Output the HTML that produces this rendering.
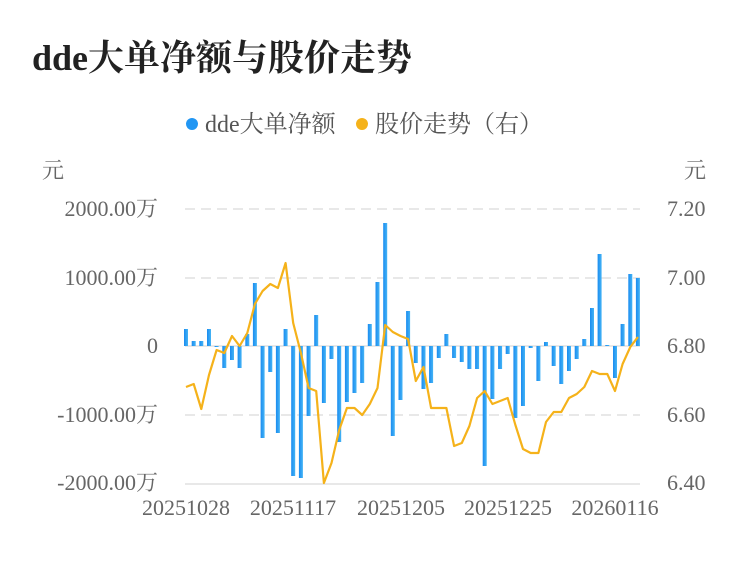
<!DOCTYPE html>
<html><head><meta charset="utf-8"><style>
body{margin:0;background:#fff;}
svg text{font-family:"Liberation Serif","Noto Serif CJK SC","Noto Sans CJK SC",serif;}
</style></head><body>
<svg width="750" height="558" xmlns="http://www.w3.org/2000/svg">
<defs><linearGradient id="g" x1="0" y1="0" x2="1" y2="0"><stop offset="0" stop-color="#1a8cf0"/><stop offset="1" stop-color="#45b4f5"/></linearGradient></defs>
<text x="32" y="70" font-size="36" font-weight="bold" fill="#222">dde大单净额与股价走势</text>
<circle cx="192" cy="124" r="6" fill="#2196F3"/>
<text x="205" y="132" font-size="24" fill="#555">dde大单净额</text>
<circle cx="362" cy="124" r="6" fill="#F5B21A"/>
<text x="375" y="132" font-size="24" fill="#555">股价走势（右）</text>
<text x="42" y="178" font-size="22" fill="#666">元</text>
<text x="684" y="178" font-size="22" fill="#666">元</text>
<g stroke="#e8e8e8" stroke-width="2" stroke-dasharray="10,6">
<line x1="185" y1="209" x2="640" y2="209"/><line x1="185" y1="278" x2="640" y2="278"/><line x1="185" y1="415" x2="640" y2="415"/>
</g>
<line x1="185" y1="346" x2="640" y2="346" stroke="#e8e8e8" stroke-width="2"/>
<line x1="185" y1="484" x2="640" y2="484" stroke="#e8e8e8" stroke-width="2"/>
<g font-size="22" fill="#666" text-anchor="end">
<text x="158" y="216">2000.00万</text><text x="158" y="285">1000.00万</text><text x="158" y="353">0</text><text x="158" y="422">-1000.00万</text><text x="158" y="490">-2000.00万</text>
</g>
<g font-size="22" fill="#666">
<text x="667" y="216">7.20</text><text x="667" y="285">7.00</text><text x="667" y="353">6.80</text><text x="667" y="422">6.60</text><text x="667" y="490">6.40</text>
</g>
<g font-size="22" fill="#666" text-anchor="middle">
<text x="186" y="515">20251028</text><text x="293" y="515">20251117</text><text x="401" y="515">20251205</text><text x="508" y="515">20251225</text><text x="615" y="515">20260116</text>
</g>
<g fill="url(#g)">
<rect x="184" y="329" width="4" height="17"/><rect x="191.7" y="341" width="4" height="5"/><rect x="199.3" y="341" width="4" height="5"/><rect x="207" y="329" width="4" height="17"/><rect x="214.6" y="346" width="4" height="1"/><rect x="222.3" y="346" width="4" height="22"/><rect x="230" y="346" width="4" height="14"/><rect x="237.6" y="346" width="4" height="22"/><rect x="245.3" y="334" width="4" height="12"/><rect x="252.9" y="283" width="4" height="63"/>
<rect x="260.6" y="346" width="4" height="92"/><rect x="268.3" y="346" width="4" height="26"/><rect x="275.9" y="346" width="4" height="87"/><rect x="283.6" y="329" width="4" height="17"/><rect x="291.2" y="346" width="4" height="130"/><rect x="298.9" y="346" width="4" height="132"/><rect x="306.6" y="346" width="4" height="70"/><rect x="314.2" y="315" width="4" height="31"/><rect x="321.9" y="346" width="4" height="57"/><rect x="329.5" y="346" width="4" height="13"/>
<rect x="337.2" y="346" width="4" height="96"/><rect x="344.9" y="346" width="4" height="56"/><rect x="352.5" y="346" width="4" height="47"/><rect x="360.2" y="346" width="4" height="37"/><rect x="367.8" y="324" width="4" height="22"/><rect x="375.5" y="282" width="4" height="64"/><rect x="383.2" y="223" width="4" height="123"/><rect x="390.8" y="346" width="4" height="90"/><rect x="398.5" y="346" width="4" height="54"/><rect x="406.1" y="311" width="4" height="35"/>
<rect x="413.8" y="346" width="4" height="17"/><rect x="421.5" y="346" width="4" height="43"/><rect x="429.1" y="346" width="4" height="37"/><rect x="436.8" y="346" width="4" height="12"/><rect x="444.4" y="334" width="4" height="12"/><rect x="452.1" y="346" width="4" height="12"/><rect x="459.8" y="346" width="4" height="16"/><rect x="467.4" y="346" width="4" height="23"/><rect x="475.1" y="346" width="4" height="23"/><rect x="482.7" y="346" width="4" height="120"/>
<rect x="490.4" y="346" width="4" height="53"/><rect x="498.1" y="346" width="4" height="23"/><rect x="505.7" y="346" width="4" height="8"/><rect x="513.4" y="346" width="4" height="72"/><rect x="521" y="346" width="4" height="60"/><rect x="528.7" y="346" width="4" height="2"/><rect x="536.4" y="346" width="4" height="35"/><rect x="544" y="342" width="4" height="4"/><rect x="551.7" y="346" width="4" height="20"/><rect x="559.3" y="346" width="4" height="38"/>
<rect x="567" y="346" width="4" height="25"/><rect x="574.7" y="346" width="4" height="13"/><rect x="582.3" y="339" width="4" height="7"/><rect x="590" y="308" width="4" height="38"/><rect x="597.6" y="254" width="4" height="92"/><rect x="605.3" y="345" width="4" height="1"/><rect x="613" y="346" width="4" height="32"/><rect x="620.6" y="324" width="4" height="22"/><rect x="628.3" y="274" width="4" height="72"/><rect x="635.9" y="278" width="4" height="68"/>
</g>
<polyline fill="none" stroke="#F5B21A" stroke-width="2.2" stroke-linejoin="round" points="186,387 193.7,384 201.3,409 209,375 216.6,350 224.3,353 232,336 239.6,346 247.3,333 254.9,304 262.6,291 270.3,284 277.9,288 285.6,263 293.2,323 300.9,353 308.6,388 316.2,391 323.9,483 331.5,463 339.2,430 346.9,408 354.5,408 362.2,415 369.8,404 377.5,388 385.2,325 392.8,332 400.5,336 408.1,339 415.8,381 423.5,367 431.1,408 438.8,408 446.4,408 454.1,446 461.8,443 469.4,426 477.1,398 484.7,391 492.4,404 500.1,401 507.7,398 515.4,425 523,449 530.7,453 538.4,453 546,422 553.7,412 561.3,412 569,398 576.7,394 584.3,387 592,371 599.6,374 607.3,374 615,391 622.6,364 630.3,347 637.9,337"/>
</svg>
</body></html>
